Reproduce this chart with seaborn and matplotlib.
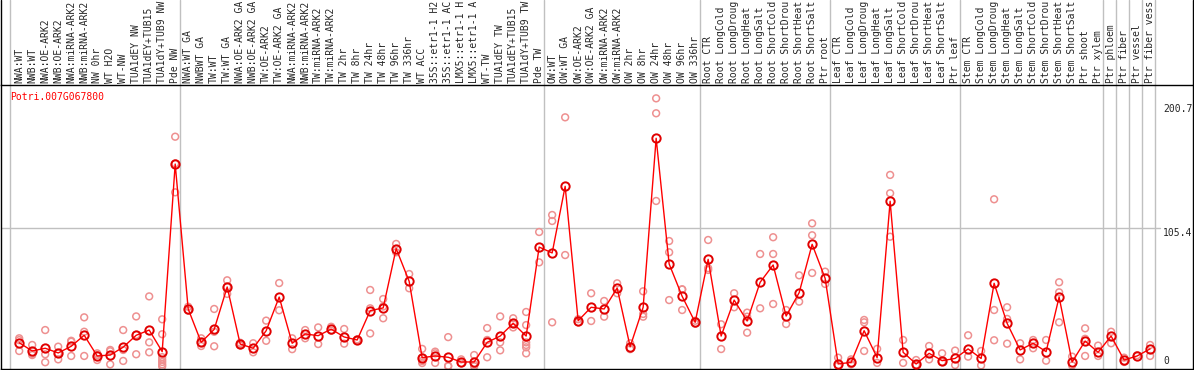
import matplotlib

matplotlib.use("Agg")
import matplotlib.pyplot as plt
import numpy as np
import pandas as pd
import seaborn as sns


GENE = "Potri.007G067800"

# sample names as they show in the header strip (long ones are cut there)
SAMPLES = [
    "NWA:WT", "NWB:WT", "NWA:OE-ARK2", "NWB:OE-ARK2", "NWA:miRNA-ARK2",
    "NWB:miRNA-ARK2", "NW 0hr", "WT H2O", "WT-NW", "TUA1dEY NW",
    "TUA1dEY+TUB15", "TUA1dY+TUB9 NW", "Pde NW",
    "NWA:WT GA", "NWBWT GA", "TW:WT", "TW:WT GA", "NWA:OE-ARK2 GA",
    "NWB:OE-ARK2 GA", "TW:OE-ARK2", "TW:OE-ARK2 GA", "NWA:miRNA-ARK2",
    "NWB:miRNA-ARK2", "TW:miRNA-ARK2", "TW:miRNA-ARK2", "TW 2hr",
    "TW 8hr", "TW 24hr", "TW 48hr", "TW 96hr", "TW 336hr", "WT ACC",
    "35S::etr1-1 H2", "35S::etr1-1 AC", "LMX5::etr1-1 H", "LMX5::etr1-1 A",
    "WT-TW", "TUA1dEY TW", "TUA1dEY+TUB15", "TUA1dY+TUB9 TW", "Pde TW",
    "OW:WT", "OW:WT GA", "OW:OE-ARK2", "OW:OE-ARK2 GA", "OW:miRNA-ARK2",
    "OW:miRNA-ARK2", "OW 2hr", "OW 8hr", "OW 24hr", "OW 48hr", "OW 96hr",
    "OW 336hr",
    "Root CTR", "Root LongCold", "Root LongDroug", "Root LongHeat",
    "Root LongSalt", "Root ShortCold", "Root ShortDrou", "Root ShortHeat",
    "Root ShortSalt", "Ptr root",
    "Leaf CTR", "Leaf LongCold", "Leaf LongDroug", "Leaf LongHeat",
    "Leaf LongSalt", "Leaf ShortCold", "Leaf ShortDrou", "Leaf ShortHeat",
    "Leaf ShortSalt", "Ptr leaf",
    "Stem CTR", "Stem LongCold", "Stem LongDroug", "Stem LongHeat",
    "Stem LongSalt", "Stem ShortCold", "Stem ShortDrou", "Stem ShortHeat",
    "Stem ShortSalt", "Ptr shoot", "Ptr xylem",
    "Ptr phloem", "Ptr fiber", "Ptr vessel", "Ptr fiber vess",
]

MEANS = [
    18.0, 11.7, 13.8, 10.2, 15.3, 23.7, 7.9, 8.6, 14.6, 23.7, 27.7, 11.2, 154.5,
    43.8, 18.3, 28.2, 60.6, 17.0, 13.8, 27.2, 52.9, 17.6, 24.7, 23.4, 28.4,
    22.4, 20.1, 42.5, 44.6, 89.9, 64.9, 6.6, 7.9, 6.9, 3.3, 3.3, 18.3, 23.1,
    32.8, 23.1, 91.1,
    86.6, 137.5, 34.8, 45.1, 43.8, 59.8, 15.0, 45.1, 174.2, 78.2, 53.5, 33.6,
    81.7, 23.1, 50.6, 34.6, 64.2, 77.4, 38.4, 56.2, 93.2, 67.2,
    1.8, 3.0, 27.2, 6.6, 126.1, 10.7, 1.8, 9.9, 4.3, 6.0,
    13.3, 6.0, 63.4, 32.8, 12.5, 17.6, 11.2, 52.9, 3.3, 19.3, 10.7,
    23.1, 4.8, 7.9, 13.3,
]

REPLICATES = [
    [21.4, 20.0, 11.7], [16.3, 8.6, 9.5], [27.7, 9.2, 3.1], [15.0, 5.3, 10.0],
    [18.8, 7.9, 19.5], [37.4, 26.4, 7.9], [9.9, 8.5, 4.8], [12.5, 11.5, 1.5],
    [27.7, 12.5, 4.1], [38.1, 24.0, 9.2], [53.4, 18.3, 10.7],
    [35.9, 24.5, 7.0, 5.0, 3.3, 1.5, 0.0], [175.4, 132.9, 155.0],
    [45.5, 42.5], [21.4, 15.5, 18.0], [43.8, 26.4, 15.3], [65.7, 55.3, 60.8],
    [18.0, 16.0, 17.0], [17.6, 10.7], [34.9, 19.5], [63.6, 42.8], [21.4, 13.1],
    [27.7, 21.4], [29.7, 17.0], [30.2, 27.2], [28.5, 17.3], [20.5, 19.7],
    [58.3, 44.3, 25.1], [51.4, 36.7, 45.7], [93.5, 87.1], [70.5, 59.6],
    [13.3, 6.6, 2.5, 4.0], [11.2, 9.9, 2.6], [22.3, 0.4, 0.0], [5.3, 2.3],
    [8.6, 0.0, 1.3], [29.2, 20.1, 6.9], [38.1, 18.3, 12.2], [36.7, 29.7, 32.8],
    [41.5, 31.5, 18.3, 16.3, 14.5, 9.9], [102.6, 79.4],
    [115.6, 111.0, 33.6], [190.2, 85.0], [36.0, 33.6], [55.8, 34.6],
    [49.9, 37.9], [63.4, 55.8], [17.6, 13.1], [57.3, 40.0, 37.9],
    [204.7, 193.3, 126.3], [95.7, 87.1, 50.6], [58.8, 43.0, 58.7], [32.5, 34.8],
    [96.5, 73.6, 75.0], [32.1, 13.2], [55.8, 45.1], [41.0, 25.7, 37.9],
    [85.8, 44.3], [98.6, 85.8, 47.6], [43.0, 32.3], [69.5, 49.4],
    [109.2, 100.1, 71.3], [72.3, 62.9],
    [6.6, 0.4], [5.3, 1.5], [35.4, 33.6, 11.7], [13.3, 2.6],
    [146.2, 132.2, 99.0], [20.1, 2.6], [4.8, 1.2], [15.5, 5.3], [9.9, 3.3],
    [12.0, 1.0],
    [23.7, 7.4], [11.7, 0.7], [127.6, 43.0, 19.9], [45.1, 36.2, 17.3],
    [17.6, 5.3], [20.1, 13.8], [20.1, 4.3], [64.2, 56.5, 33.6], [7.4, 0.7],
    [29.0, 7.9, 21.0], [15.8, 7.9], [26.4, 17.6], [6.6, 3.3], [8.5],
    [16.3, 7.9],
]

Y_TICKS = [0, 105.4, 200.7]
Y_TICK_LABELS = ["0", "105.4", "200.7"]
# last sample index of each tissue / series block
GROUP_ENDS = [12, 40, 52, 62, 72, 83, 84, 85, 86, 87]

W, H = 1194, 370
GRID = "#c0c0c0"
PINK = "#ee9090"

sns.set_style("white")
plt.rcParams["font.family"] = ["DejaVu Sans Mono"]

rep_df = pd.DataFrame(
    [(i, v) for i, reps in enumerate(REPLICATES) for v in reps],
    columns=["sample", "value"],
)
x = np.arange(len(SAMPLES))

fig = plt.figure(figsize=(W / 100, H / 100), dpi=100)
ax = fig.add_axes([1 / W, (H - 368.5) / H, 1192 / W, 283.5 / H])
xlim = (-1.4, 90.3)
ax.set_xlim(*xlim)
ax.set_ylim(-1.68, 214.9)
extend = 1 + 85 / 283.5

ax.axvline(-0.7, 0, extend, color=GRID, lw=1, clip_on=False, zorder=0)
for g in GROUP_ENDS:
    ax.axvline(g + 0.38, 0, extend, color=GRID, lw=1, clip_on=False, zorder=0)
ax.axhline(105.4, xmin=0, xmax=1159 / 1192, color=GRID, lw=1, zorder=0)
for edge in xlim:
    ax.axvline(edge, 1, extend, color="black", lw=1, clip_on=False)

sns.scatterplot(
    data=rep_df, x="sample", y="value", marker="o", s=24,
    facecolors="none", edgecolor=PINK, linewidth=1.1, ax=ax, zorder=2,
)
sns.lineplot(
    x=x, y=MEANS, color="#ff0000", linewidth=1, marker="o", markersize=6,
    markerfacecolor="none", markeredgecolor="#e00000", markeredgewidth=1.4,
    errorbar=None, ax=ax, zorder=3,
)

for side in ["left", "right", "top", "bottom"]:
    ax.spines[side].set_visible(True)
    ax.spines[side].set_color("black")
    ax.spines[side].set_linewidth(1)

ax.set_xticks(x)
ax.set_xticklabels(SAMPLES)
ax.xaxis.tick_top()
ax.tick_params(axis="x", length=0, pad=1.5, labelsize=7, labelrotation=90)

ax.set_yticks(Y_TICKS, Y_TICK_LABELS)
ax.yaxis.tick_right()
ax.tick_params(axis="y", length=0, pad=-21.6, labelsize=7)
for lbl, val in zip(ax.get_yticklabels(), Y_TICKS):
    lbl.set_va("bottom" if val == 0 else "top")

ax.set_xlabel("")
ax.set_ylabel("")
ax.text(9 / 1192, (368.5 - 97) / 283.5, GENE, transform=ax.transAxes,
        color="#ff0000", fontsize=7, va="center", ha="left")

fig.savefig("out.png", dpi=100)
